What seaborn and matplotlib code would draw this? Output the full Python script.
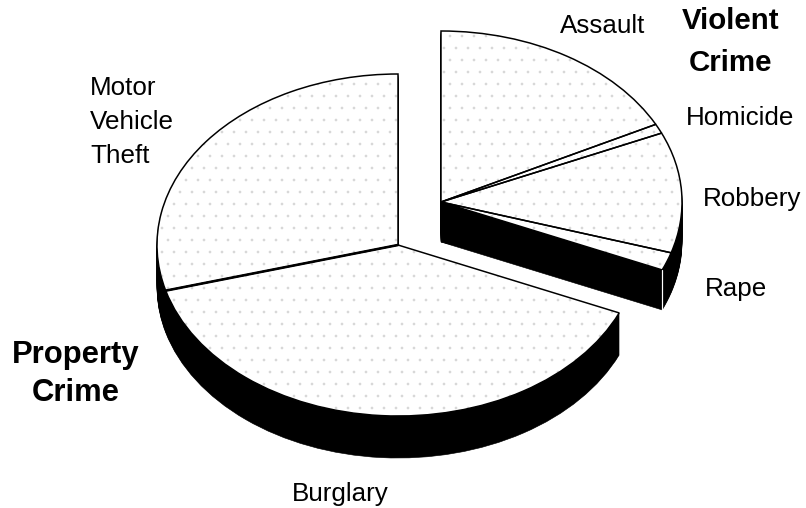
import numpy as np
import matplotlib
matplotlib.use('Agg')
import matplotlib.pyplot as plt
import seaborn as sns

sns.set_theme(style="white")
plt.rcParams['font.family'] = ['Liberation Sans', 'DejaVu Sans']
plt.rcParams['hatch.linewidth'] = 0.2

# shares of all crime
violent_labels = ["Assault", "Homicide", "Robbery", "Rape"]
violent_share = [0.175, 0.009, 0.114, 0.017]
property_labels = ["Burglary", "Motor\nVehicle\nTheft"]
property_share = [0.392, 0.293]
group_labels = ["Violent\nCrime", "Property\nCrime"]

# ellipse of the tilted pies, pixels
WIDTH, HEIGHT = 806, 508
RX, RY = 241, 171
SQUASH = RX / RY


def to_y(py):
    # pixel row -> data y, the y axis is stretched so a pie draws as an ellipse
    return (HEIGHT - py) * SQUASH


def draw_pie(ax, shares, cx, cy, start, thick):
    center = (cx, to_y(cy))
    # side wall: the same pie stacked in black from the bottom up
    for dz in range(thick, 0, -1):
        ax.pie(shares, radius=RX, center=(cx, to_y(cy + dz)), normalize=False,
               startangle=start, counterclock=False,
               wedgeprops=dict(facecolor='black', edgecolor='black', linewidth=0.6))
    # stippled top face, then the outlines
    ax.pie(shares, radius=RX, center=center, normalize=False,
           startangle=start, counterclock=False,
           wedgeprops=dict(facecolor='white', edgecolor='#d6d6d6', linewidth=0, hatch='.'))
    ax.pie(shares, radius=RX, center=center, normalize=False,
           startangle=start, counterclock=False,
           wedgeprops=dict(facecolor='none', edgecolor='black', linewidth=1.5))


def rim_point(cx, cy, share):
    # point on the rim, share measured clockwise from the top
    t = 2 * np.pi * share
    return cx + RX * np.sin(t), to_y(cy) + RX * np.cos(t)


fig = plt.figure(figsize=(WIDTH / 72, HEIGHT / 72), dpi=72)
ax = fig.add_axes([0, 0, 1, 1])

violent_total = sum(violent_share)
draw_pie(ax, violent_share, 441, 202, 90, 40)
draw_pie(ax, property_share, 398, 245, 90 - violent_total * 360, 42)

ax.set_aspect('auto')
ax.set_xlim(0, WIDTH)
ax.set_ylim(0, to_y(0))
ax.axis('off')

# white corner line on the violent slab
x0, y0 = rim_point(441, 202, violent_total)
ax.plot([x0, x0], [y0, y0 - 40 * SQUASH], color='white', lw=1.2)

# heavier seam between burglary and motor vehicle theft
x1, y1 = rim_point(398, 245, violent_total + property_share[0])
ax.plot([398, x1], [to_y(245), y1], color='black', lw=2.6)


def label(text, px, py, size=26, weight='normal', ha='left', linespacing=1.2):
    fig.text(px / WIDTH, 1 - py / HEIGHT, text, fontsize=size, fontweight=weight,
             ha=ha, va='center', color='black', linespacing=linespacing)


label(violent_labels[0], 560, 26)
label(violent_labels[1], 686, 118)
label(violent_labels[2], 703, 199)
label(violent_labels[3], 705, 289)
label(property_labels[0], 340, 494, ha='center')
label(property_labels[1], 90, 122, linespacing=1.55)
label(group_labels[0], 731, 42, size=29.5, weight='bold', ha='center', linespacing=1.62)
label(group_labels[1], 76, 374, size=31, weight='bold', ha='center', linespacing=1.34)

fig.savefig('out.png', dpi=72, facecolor='white')
